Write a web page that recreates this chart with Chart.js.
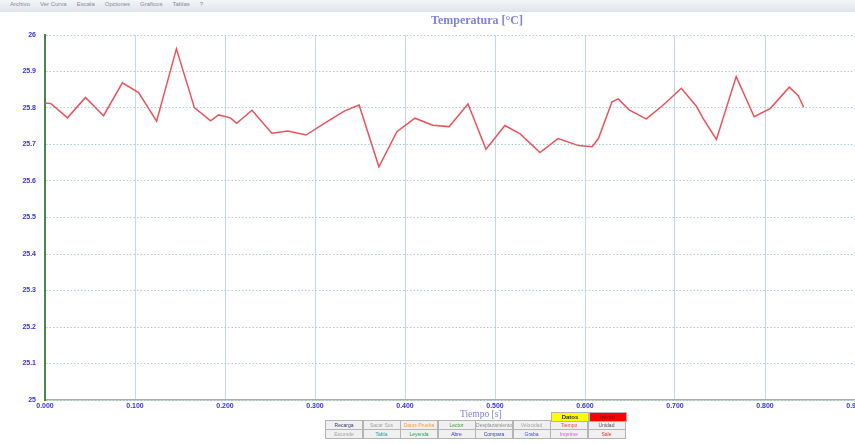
<html>
<script src="https://cdn.jsdelivr.net/npm/chart.js@4.4.0/dist/chart.umd.min.js"></script>

<style>
  body { margin: 0; width: 855px; height: 444px; overflow: hidden; background: white; position: relative; font-family: "Liberation Sans", Arial, sans-serif; }
  #menu { position: absolute; left: 0; top: 0; width: 855px; height: 12px; background: linear-gradient(#f4f5f8, #dfe3ec); font-size: 6px; color: #8a8a98; line-height: 9px; }
  #menu span { margin-left: 10px; }
  canvas { position: absolute; left: 0; top: 0; }
  .lbl { position: absolute; font-family: "Liberation Serif", "Times New Roman", serif; color: #8080e0; white-space: nowrap; }
  #title { left: 431px; top: 13px; font-size: 12px; font-weight: bold; }
  #xtitle { left: 460px; top: 409px; font-size: 9.5px; }
  .btn { position: absolute; width: 36px; height: 8px; border: 1px solid #b4b4b4; background: #f0f0f0; font-size: 5px; line-height: 8px; text-align: center; overflow: hidden; white-space: nowrap; }
</style>

<body>
  <div id="menu"><span>Archivo</span><span>Ver Curva</span><span>Escala</span><span>Opciones</span><span>Graficos</span><span>Tablas</span><span>?</span></div>
  <canvas id="TempChart" width="880" height="444"></canvas>
  <div class="lbl" id="title">Temperatura [°C]</div>
  <div class="lbl" id="xtitle">Tiempo [s]</div>
  <div id="panel"></div>
</body>

<script>
  // values
  var timeList = [0, 0.0067, 0.025, 0.045, 0.065, 0.086, 0.104, 0.124, 0.146, 0.166,
    0.184, 0.193, 0.206, 0.213, 0.230, 0.252, 0.270, 0.290, 0.313, 0.333,
    0.349, 0.371, 0.391, 0.411, 0.431, 0.449, 0.470, 0.490, 0.511, 0.528,
    0.550, 0.570, 0.593, 0.608, 0.615, 0.630, 0.637, 0.649, 0.668, 0.685,
    0.693, 0.707, 0.724, 0.731, 0.746, 0.768, 0.788, 0.806, 0.827, 0.837, 0.843];
  var tempList = [25.814, 25.812, 25.773, 25.829, 25.779, 25.869, 25.842, 25.764, 25.962, 25.801,
    25.765, 25.781, 25.773, 25.758, 25.794, 25.731, 25.737, 25.726, 25.762, 25.792,
    25.808, 25.639, 25.735, 25.772, 25.753, 25.749, 25.811, 25.687, 25.752, 25.729,
    25.678, 25.716, 25.697, 25.694, 25.717, 25.817, 25.825, 25.795, 25.770, 25.804,
    25.822, 25.854, 25.804, 25.772, 25.714, 25.886, 25.776, 25.799, 25.857, 25.834, 25.802];

  var buttonsRow1 = ["Recarga", "Sacar Sus", "Datos Prueba", "Lector", "Desplazamiento", "Velocidad", "Tiempo", "Unidad"];
  var colorsRow1 = ["#33337a", "#a0a0a0", "#ff9a30", "#3aa03a", "#909090", "#a8a8a8", "#ff4040", "#505060"];
  var buttonsRow2 = ["Esconde", "Tabla", "Leyenda", "Abre", "Compara", "Graba", "Imprime", "Sale"];
  var colorsRow2 = ["#a0a0a0", "#20a0a0", "#20a060", "#3030ff", "#3838d0", "#4848f0", "#ff40ff", "#f03030"];

  var panel = document.getElementById("panel");
  function addButton(text, color, x, y, bg, bold) {
    var b = document.createElement("div");
    b.className = "btn";
    b.style.left = x + "px";
    b.style.top = y + "px";
    b.style.color = color;
    if (bg) b.style.background = bg;
    if (bold) { b.style.fontWeight = "bold"; b.style.fontSize = "6px"; }
    b.innerHTML = text;
    panel.appendChild(b);
  }
  for (var i = 0; i < 8; i++) {
    addButton(buttonsRow1[i], colorsRow1[i], 325 + i * 37.5, 420, null, false);
    addButton(buttonsRow2[i], colorsRow2[i], 325 + i * 37.5, 429, null, false);
  }
  addButton("Datos", "#303000", 551, 412, "#ffff00", true);
  addButton("Inicio", "#a00000", 588.5, 412, "#ff0000", true);

  var points = timeList.map(function (t, i) { return { x: t, y: tempList[i] }; });

  var tickFont = { family: "Liberation Sans", size: 7, weight: "bold" };

  var tempChart = new Chart(document.getElementById("TempChart"), {
    type: "line",
    data: {
      datasets: [
        {
          label: "Temperatura",
          data: points,
          borderColor: "rgb(236,82,90)",
          borderWidth: 1.5,
          pointRadius: 0,
          tension: 0,
          fill: false
        }
      ]
    },
    options: {
      responsive: false,
      animation: false,
      layout: { padding: { top: 35, right: 25, left: 0, bottom: 0 } },
      plugins: { legend: { display: false }, title: { display: false }, tooltip: { enabled: false } },
      scales: {
        x: {
          type: "linear",
          min: 0,
          max: 0.9,
          afterFit: function (s) { s.height = 44; },
          ticks: {
            stepSize: 0.1,
            color: "#3535d8",
            font: tickFont,
            padding: 2,
            maxRotation: 0,
            callback: function (v) { return Number(v).toFixed(3); }
          },
          grid: { color: "#c2dae8", lineWidth: 1, drawTicks: false },
          border: { color: "#a0b4a0", width: 1.5 }
        },
        y: {
          min: 25,
          max: 26,
          afterFit: function (s) { s.width = 45; },
          ticks: {
            stepSize: 0.1,
            color: "#3535d8",
            font: tickFont,
            padding: 9,
            callback: function (v) { return String(Math.round(v * 10) / 10); }
          },
          grid: { color: "#a6cee0", lineWidth: 1, drawTicks: false },
          border: { color: "#4e824e", width: 2, dash: [1.5, 2] }
        }
      }
    }
  });
</script>

</html>
